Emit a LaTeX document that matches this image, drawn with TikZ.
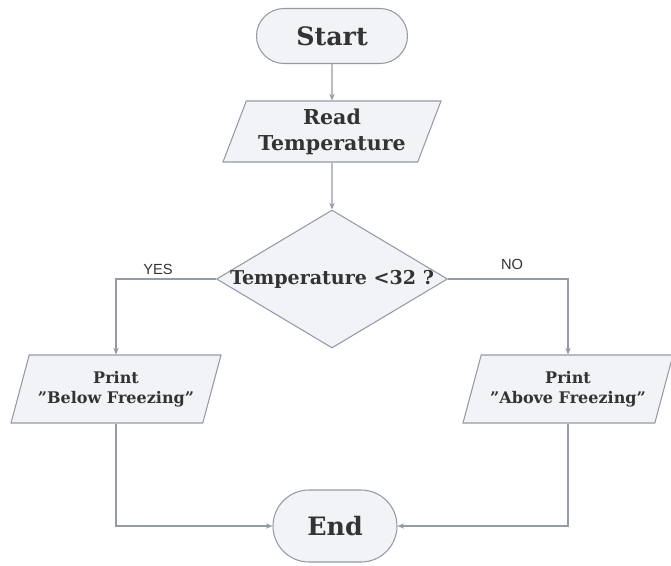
\documentclass[tikz,border=0pt]{standalone}
\usepackage{fontspec}
\setmainfont{DejaVu Serif}
\setsansfont{Liberation Sans}
\usetikzlibrary{shapes.geometric,shapes.misc,arrows.meta}
\definecolor{edge}{RGB}{150,154,165}
\definecolor{boxfill}{RGB}{242,243,247}
\definecolor{ink}{RGB}{51,51,51}
\newcommand{\flowline}{\draw[flow]}
\newcommand{\fsize}[1]{\bfseries\fontsize{#1}{#1}\selectfont}
\newcommand{\qq}{\symbol{34}}
\tikzset{
  terminal/.style={rounded rectangle, draw=edge, fill=boxfill, text=ink,
    line width=0.8pt, inner sep=0pt, font=\fsize{19}},
  iobox/.style={trapezium, trapezium left angle=63, trapezium right angle=117,
    trapezium stretches body, draw=edge, fill=boxfill, text=ink,
    line width=0.8pt, inner sep=0pt, align=center},
  decision/.style={diamond, draw=edge, fill=boxfill, text=ink,
    line width=0.8pt, inner sep=0pt, font=\fsize{14.3}},
  flow/.style={edge, line width=0.8pt, -{Stealth[length=5pt,width=4pt]}},
  tag/.style={font=\sffamily\fontsize{11}{12}\selectfont, text=ink}
}
\begin{document}
\begin{tikzpicture}[x=0.75pt,y=-0.75pt]
\useasboundingbox (0,0) rectangle (671,565);
% boxes
\node[terminal, minimum width=113.25pt, minimum height=41.25pt] (start) at (332,36) {Start};
\node[iobox, minimum width=163.5pt, minimum height=45.75pt, font=\fsize{15.4}] (read) at (332,131.5) {Read\\[4pt]Temperature};
\node[decision, minimum width=173.25pt, minimum height=103.5pt] (test) at (332,279) {\makebox[0pt]{Temperature <32 ?}};
\node[iobox, minimum width=157.5pt, minimum height=51pt, font=\fsize{12}] (below) at (116,389) {Print\\[3pt]\qq Below Freezing\qq};
\node[iobox, minimum width=157.5pt, minimum height=51pt, font=\fsize{12}] (above) at (568,389) {Print\\[3pt]\qq Above Freezing\qq};
\node[terminal, minimum width=93pt, minimum height=54pt] (end) at (335,526) {End};
% labels
\node[tag] (yes) at (158,269) {YES};
\node[tag] (no) at (512,264) {NO};
% connectors
\flowline (start) -- (read);
\flowline (read) -- (test);
\flowline (test.west) -| (below);
\flowline (test.east) -| (above);
\flowline (below.south) |- (end);
\flowline (above.south) |- (end);
\end{tikzpicture}
\end{document}
